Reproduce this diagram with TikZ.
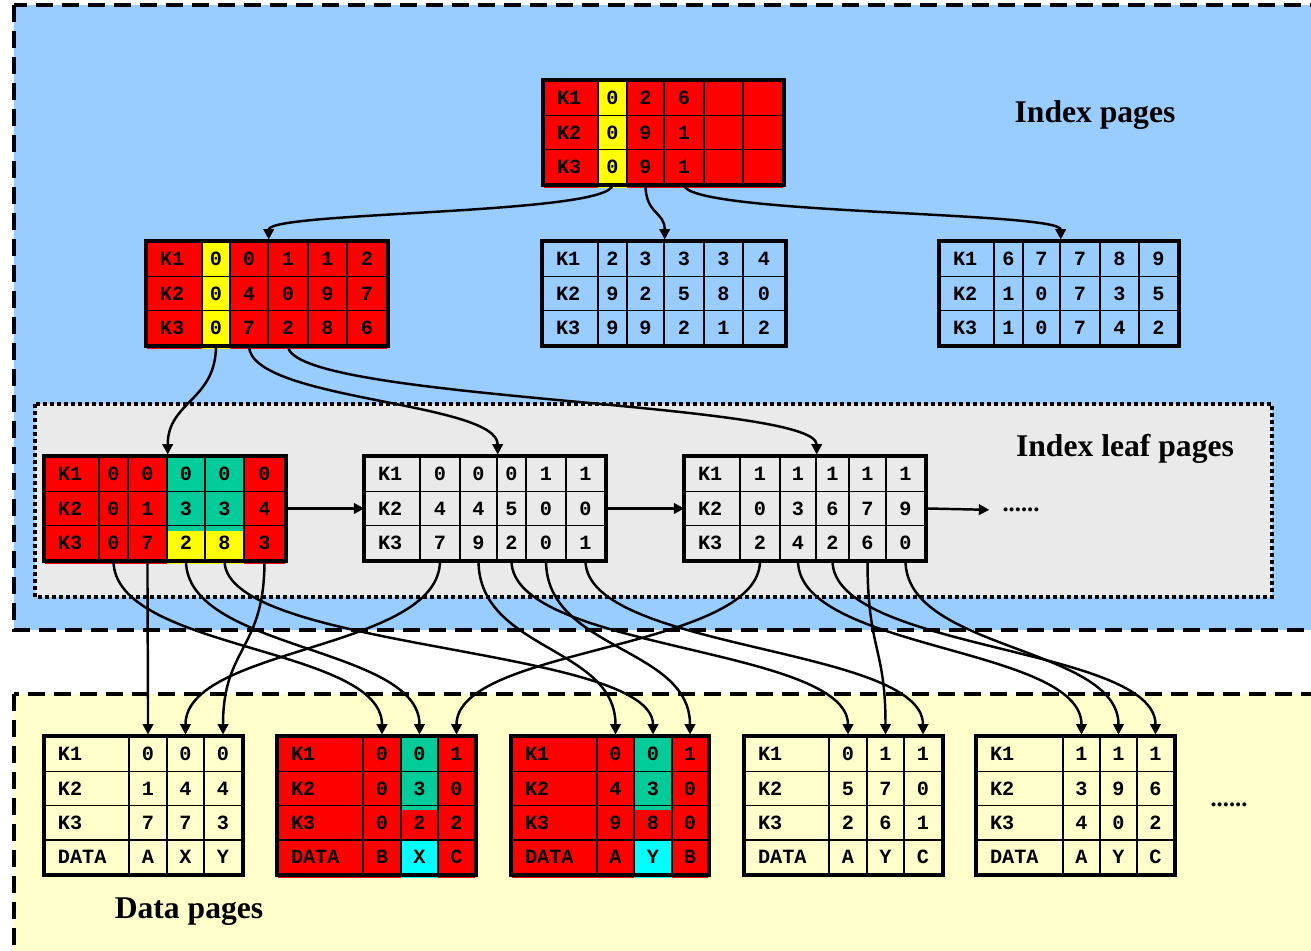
\documentclass[tikz,border=0pt]{standalone}
\usepackage{fontspec}
\setmainfont{Liberation Serif}
\setmonofont{Liberation Mono}
\usetikzlibrary{arrows.meta}
\definecolor{idxblue}{RGB}{153,204,255}
\definecolor{leafgray}{RGB}{234,234,234}
\definecolor{datayellow}{RGB}{255,255,204}
\definecolor{hitred}{RGB}{255,0,0}
\definecolor{hityellow}{RGB}{255,255,0}
\definecolor{hitgreen}{RGB}{0,204,153}
\definecolor{hitcyan}{RGB}{0,255,255}

\tikzset{
    cell/.style={draw, line width=0.8pt, inner ysep=0pt, minimum height=0.686cm,
                 font=\ttfamily\bfseries\fontsize{11.5}{12}\selectfont},
    keycell/.style={cell, inner xsep=0.26cm, text width=\tw cm, align=left},
    valcell/.style={cell, inner xsep=0pt, text width=\cw cm, align=center},
    pageframe/.style={draw, line width=2.3pt},
    ptr/.style={-{Triangle[length=0.21cm, width=0.21cm]}, line width=1.4pt},
    title/.style={font=\bfseries\fontsize{18}{20}\selectfont},
    more/.style={font=\bfseries\fontsize{14}{16}\selectfont}
}

% page with three key rows; columns given as xa/xb/k1/k2/k3
\newcommand{\idxpage}[3]{%
  \foreach \xa/\xb/\ka/\kb/\kc [count=\c] in {#3} {
    \pgfmathsetmacro\cw{(\xb-\xa)*0.02}
    \pgfmathsetmacro\tw{\cw-0.52}
    \foreach \txt [count=\r] in {\ka,\kb,\kc} {
      \ifnum\c=1 \tikzset{cellkind/.style={keycell}}\else\tikzset{cellkind/.style={valcell}}\fi
      \node[cellkind] (#1-\c-\r) at ({(\xa+\xb)/2}, {#2+(\r-0.5)*34.3}) {\txt};
    }
  }
  \draw[pageframe] (#1-1-1.north west) rectangle (#1-6-3.south east);
}
% data page: three keys and a data row
\newcommand{\datapage}[3]{%
  \foreach \xa/\xb/\ka/\kb/\kc/\kd [count=\c] in {#3} {
    \pgfmathsetmacro\cw{(\xb-\xa)*0.02}
    \pgfmathsetmacro\tw{\cw-0.52}
    \foreach \txt [count=\r] in {\ka,\kb,\kc,\kd} {
      \ifnum\c=1 \tikzset{cellkind/.style={keycell}}\else\tikzset{cellkind/.style={valcell}}\fi
      \node[cellkind] (#1-\c-\r) at ({(\xa+\xb)/2}, {#2+(\r-0.5)*34.3}) {\txt};
    }
  }
  \draw[pageframe] (#1-1-1.north west) rectangle (#1-4-4.south east);
}

\begin{document}
\begin{tikzpicture}[x=0.02cm, y=-0.02cm]
    \useasboundingbox (0,0) rectangle (1311,950);

    % regions
    \filldraw[fill=idxblue, line width=2.8pt, dash pattern=on 0.34cm off 0.18cm] (14,5) rectangle (1345,630);
    \filldraw[fill=leafgray, line width=2.2pt, dash pattern=on 0.08cm off 0.06cm] (35,404) rectangle (1272,597);
    \filldraw[fill=datayellow, line width=2.8pt, dash pattern=on 0.34cm off 0.18cm] (14,694) rectangle (1345,990);

    \node[title] (idxtitle) at (1095,115) {Index pages};
    \node[title] (leaftitle) at (1125,449) {Index leaf pages};
    \node[title] (datatitle) at (189,912) {Data pages};

    % highlighted cells
    \fill[hitred] (544,81) rectangle (783,188);
    \fill[hityellow] (598,81) rectangle (627,188);
    \fill[hitred] (147,242) rectangle (387,349);
    \fill[hityellow] (202,242) rectangle (230,349);
    \fill[hitred] (45,457) rectangle (285,564);
    \fill[hitgreen] (167,457) rectangle (244,531);
    \fill[hityellow] (167,531) rectangle (244,564);
    \fill[hitred] (278,737) rectangle (475,878);
    \fill[hitgreen] (401,737) rectangle (438,810);
    \fill[hitcyan] (401,841) rectangle (438,878);
    \fill[hitred] (512,737) rectangle (708,878);
    \fill[hitgreen] (634,737) rectangle (672,810);
    \fill[hitcyan] (634,841) rectangle (672,878);

    % index pages
    \idxpage{r}{81}{544/598/K1/K2/K3, 598/627/0/0/0, 627/664/2/9/9, 664/704/6/1/1, 704/743/{}/{}/{}, 743/783/{}/{}/{}}
    \idxpage{m1}{242}{147/202/K1/K2/K3, 202/230/0/0/0, 230/268/0/4/7, 268/308/1/0/2, 308/347/1/9/8, 347/387/2/7/6}
    \idxpage{m2}{242}{543/598/K1/K2/K3, 598/627/2/9/9, 627/664/3/2/9, 664/704/3/5/2, 704/743/3/8/1, 743/785/4/0/2}
    \idxpage{m3}{242}{940/994/K1/K2/K3, 994/1023/6/1/1, 1023/1060/7/0/0, 1060/1100/7/7/7, 1100/1139/8/3/4, 1139/1178/9/5/2}

    % leaf pages
    \idxpage{l1}{457}{45/99/K1/K2/K3, 99/128/0/0/0, 128/167/0/1/7, 167/205/0/3/2, 205/244/0/3/8, 244/285/0/4/3}
    \idxpage{l2}{457}{365/420/K1/K2/K3, 420/460/0/4/7, 460/497/0/4/9, 497/526/0/5/2, 526/566/1/0/0, 566/605/1/0/1}
    \idxpage{l3}{457}{685/740/K1/K2/K3, 740/780/1/0/2, 780/816/1/3/4, 816/849/1/6/2, 849/886/1/7/6, 886/925/1/9/0}
    \node[more] (leafmore) at (1021,510) {......};

    % data pages
    \datapage{d1}{737}{45/129/K1/K2/K3/DATA, 129/167/0/1/7/A, 167/204/0/4/7/X, 204/242/0/4/3/Y}
    \datapage{d2}{737}{278/363/K1/K2/K3/DATA, 363/401/0/0/0/B, 401/438/0/3/2/X, 438/475/1/0/2/C}
    \datapage{d3}{737}{512/597/K1/K2/K3/DATA, 597/634/0/4/9/A, 634/672/0/3/8/Y, 672/708/1/0/0/B}
    \datapage{d4}{737}{745/829/K1/K2/K3/DATA, 829/867/0/5/2/A, 867/904/1/7/6/Y, 904/942/1/0/1/C}
    \datapage{d5}{737}{977/1063/K1/K2/K3/DATA, 1063/1100/1/3/4/A, 1100/1137/1/9/0/Y, 1137/1174/1/6/2/C}
    \node[more] (datamore) at (1229,805) {......};

    % pointers
    \foreach \src/\dst in {r-2/m1, r-3/m2, r-4/m3}
        \draw[ptr, shorten >=1pt] (\src-3.south) .. controls +(0,30) and +(0,-30) .. (\dst-3-1.north east);
    \foreach \src/\dst in {m1-2/l1, m1-3/l2, m1-4/l3}
        \draw[ptr, shorten >=1pt] (\src-3.south) .. controls +(0,55) and +(0,-55) .. (\dst-3-1.north east);
    \draw[ptr] (l1-6-2.east) -- (l2-1-2.west);
    \draw[ptr] (l2-6-2.east) -- (l3-1-2.west);
    \draw[ptr, shorten >=4pt] (l3-6-2.east) -- (leafmore.west);
    \foreach \src/\dst in {l1-2/d2-2, l1-3/d1-2, l1-4/d2-3, l1-5/d3-3, l1-6/d1-4,
                           l2-2/d1-3, l2-3/d3-2, l2-4/d4-2, l2-5/d3-4, l2-6/d4-4,
                           l3-2/d2-4, l3-3/d5-2, l3-4/d5-4, l3-5/d4-3, l3-6/d5-3}
        \draw[ptr, shorten >=1pt] (\src-3.south) .. controls +(0,90) and +(0,-90) .. (\dst-1.north);
\end{tikzpicture}
\end{document}
